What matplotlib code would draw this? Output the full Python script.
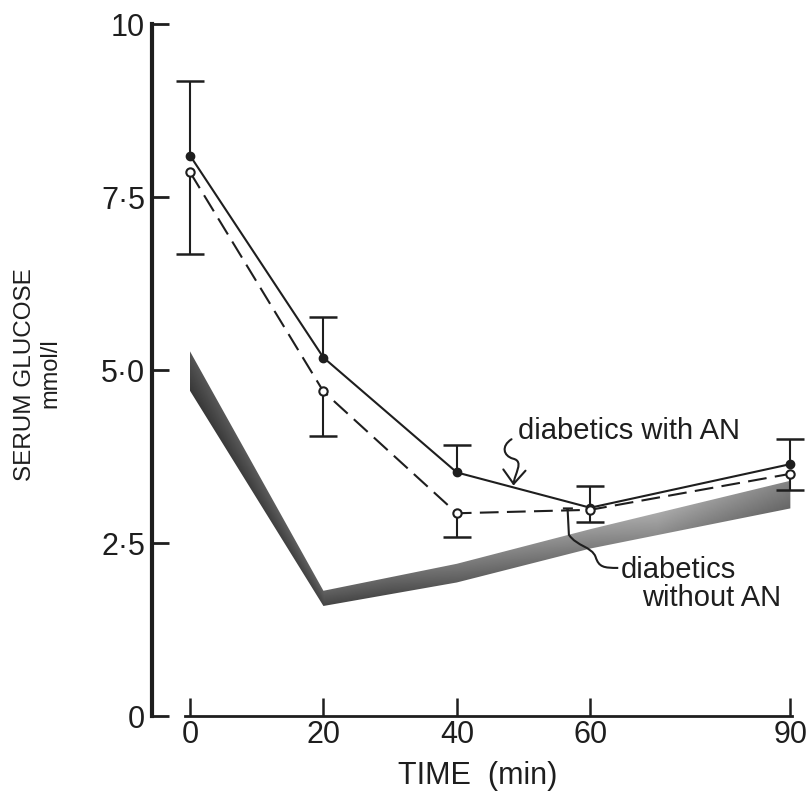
import numpy as np
import matplotlib.pyplot as plt
from matplotlib.path import Path
from matplotlib.patches import FancyArrowPatch, PathPatch, Polygon

plt.rcParams['font.family'] = ['Liberation Sans', 'DejaVu Sans']

time = [0, 20, 40, 60, 90]
# diabetics with AN (solid, filled circles), upper error bars
with_an = [8.10, 5.18, 3.52, 3.01, 3.64]
with_an_up = [1.07, 0.59, 0.40, 0.32, 0.37]
# diabetics without AN (dashed, open circles), lower error bars
without_an = [7.86, 4.69, 2.93, 2.98, 3.50]
without_an_low = [1.18, 0.64, 0.34, 0.18, 0.23]
# shaded range of diabetics without AN
band_upper = [5.27, 1.81, 2.20, 2.70, 3.40]
band_lower = [4.70, 1.59, 1.93, 2.42, 3.00]

yticks = [0, 2.5, 5.0, 7.5, 10]
ytick_labels = ['0', '2·5', '5·0', '7·5', '10']
xticks = [0, 20, 40, 60, 90]

ink = '#1e1e1e'

fig = plt.figure(figsize=(8.11, 7.91), dpi=100)
ax = fig.add_axes([0.1874, 0.0948, 0.8036, 0.8748])

# gradient-filled band
xs = np.linspace(0, 90, 400)
ys = np.linspace(1.4, 5.4, 300)
X, Y = np.meshgrid(xs, ys)
lo = np.interp(X, time, band_lower)
hi = np.interp(X, time, band_upper)
frac = np.clip((Y - lo) / (hi - lo), 0, 1)
shade = np.interp(X, [0, 30, 70, 90], [0.22, 0.30, 0.55, 0.40]) + 0.12 * frac
im = ax.imshow(shade, extent=(0, 90, 1.4, 5.4), origin='lower', cmap='gray',
               vmin=0, vmax=1, aspect='auto', interpolation='bilinear', zorder=1)
poly = Polygon(np.column_stack([time + time[::-1], band_upper + band_lower[::-1]]),
               closed=True, facecolor='none', edgecolor='none')
ax.add_patch(poly)
im.set_clip_path(poly)

# one-sided error bars
t = np.array(time)
w_top = np.array(with_an) + np.array(with_an_up)
wo_bot = np.array(without_an) - np.array(without_an_low)
ax.vlines(t, with_an, w_top, color=ink, lw=1.5, zorder=3)
ax.vlines(t, wo_bot, without_an, color=ink, lw=1.5, zorder=3)
ax.plot(t, w_top, ls='none', marker='_', ms=20, mew=1.8, color=ink, zorder=3)
ax.plot(t, wo_bot, ls='none', marker='_', ms=20, mew=1.8, color=ink, zorder=3)

ax.plot(time, with_an, color=ink, lw=1.5, marker='o', ms=6,
        mfc=ink, mec=ink, zorder=4, clip_on=False)
ax.plot(time, without_an, color=ink, lw=1.5, dashes=(9, 4), marker='o', ms=6,
        mfc='white', mec=ink, mew=1.5, zorder=4, clip_on=False)

# labels on the curves
ax.text(49.2, 4.01, 'diabetics with AN', fontsize=21, color=ink, va='baseline')
ax.text(64.5, 2.0, 'diabetics', fontsize=21, color=ink, va='baseline')
ax.text(67.8, 1.59, 'without AN', fontsize=21, color=ink, va='baseline')

squiggle = Path([(48.2, 4.0), (46.6, 3.9), (47.0, 3.76), (48.4, 3.72),
                 (50.2, 3.68), (48.6, 3.5), (48.5, 3.33)],
                [Path.MOVETO, Path.CURVE4, Path.CURVE4, Path.CURVE4,
                 Path.CURVE4, Path.CURVE4, Path.CURVE4])
ax.add_patch(FancyArrowPatch(path=squiggle, arrowstyle='->,head_length=0.5,head_width=0.4',
                             mutation_scale=20, lw=1.5, color=ink, shrinkA=0, shrinkB=0,
                             zorder=5))

leader = Path([(55.9, 3.0), (57.4, 3.0), (56.6, 3.0), (56.8, 2.62),
               (58.0, 2.45), (60.2, 2.45), (60.8, 2.3),
               (61.3, 2.15), (62.0, 2.14), (64.2, 2.14)],
              [Path.MOVETO, Path.LINETO, Path.MOVETO, Path.LINETO,
               Path.CURVE4, Path.CURVE4, Path.CURVE4,
               Path.CURVE4, Path.CURVE4, Path.CURVE4])
ax.add_patch(PathPatch(leader, facecolor='none', edgecolor=ink, lw=1.5, zorder=5))

# axes styling
ax.set_xlim(-5.7, 92)
ax.set_ylim(0, 10)
for s in ['top', 'right']:
    ax.spines[s].set_visible(False)
ax.spines['left'].set_bounds(0, 10)
ax.spines['left'].set_linewidth(3)
ax.spines['left'].set_color(ink)
ax.spines['bottom'].set_bounds(-0.7, 90.3)
ax.spines['bottom'].set_linewidth(2)
ax.spines['bottom'].set_color(ink)

ax.set_yticks(yticks)
ax.set_yticklabels(ytick_labels)
ax.set_xticks(xticks)
ax.tick_params(axis='y', direction='in', length=12, width=2, pad=5,
               labelsize=22, colors=ink)
ax.tick_params(axis='x', direction='in', length=13, width=1.8, pad=3,
               labelsize=22, colors=ink)

ax.set_xlabel('TIME  (min)', fontsize=22, color=ink, labelpad=8)
fig.text(0.031, 0.526, 'SERUM GLUCOSE', rotation=90, fontsize=17.5, color=ink,
         ha='center', va='center')
fig.text(0.062, 0.528, 'mmol/l', rotation=90, fontsize=17, color=ink,
         ha='center', va='center')

fig.savefig('out.png', dpi=100, facecolor='white')
